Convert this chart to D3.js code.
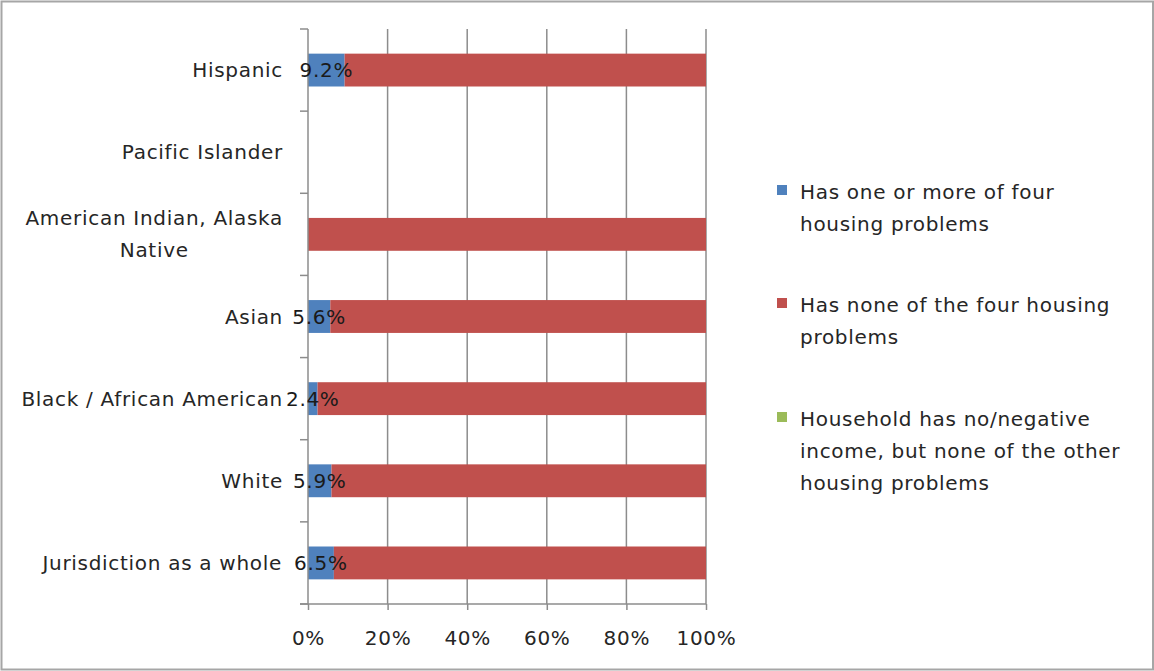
<!DOCTYPE html>
<html>
<head>
<meta charset="utf-8">
<script src="https://cdn.jsdelivr.net/npm/d3@7"></script>
<style>
html,body{margin:0;padding:0;background:#fff;}
text{font-family:"DejaVu Sans",sans-serif;}
</style>
</head>
<body>
<svg id="chart" width="1154" height="671"></svg>
<script>
const categories = ["Hispanic", "Pacific Islander", "American Indian, Alaska Native", "Asian", "Black / African American", "White", "Jurisdiction as a whole"];
const categoryLines = [["Hispanic"], ["Pacific Islander"], ["American Indian, Alaska", "Native"], ["Asian"], ["Black / African American"], ["White"], ["Jurisdiction as a whole"]];
const hasProblems = [9.2, 0, 0, 5.6, 2.4, 5.9, 6.5];
const noProblems = [90.8, 0, 100, 94.4, 97.6, 94.1, 93.5];
const noIncome = [0, 0, 0, 0, 0, 0, 0];
const seriesNames = ["Has one or more of four housing problems", "Has none of the four housing problems", "Household has no/negative income, but none of the other housing problems"];
const legendLines = [["Has one or more of four", "housing problems"], ["Has none of the four housing", "problems"], ["Household has no/negative", "income, but none of the other", "housing problems"]];
const colors = ["#4F81BD", "#C0504D", "#9BBB59"];
const xTicks = [0, 20, 40, 60, 80, 100];

const svg = d3.select("#chart");
const W = 1154, H = 671;
const m = {left: 308, right: 706, top: 29, bottom: 604};
const textColor = "#262626";
const gridColor = "#8c8c8c";
const fs = 20;
const ls = 0.7;

// outer border
svg.append("rect").attr("x", 1.5).attr("y", 1.5).attr("width", W - 2.5).attr("height", H - 3)
  .attr("fill", "#fff").attr("stroke", "#a6a6a6").attr("stroke-width", 2);

const x = d3.scaleLinear().domain([0, 100]).range([m.left, m.right]);
const y = d3.scaleBand().domain(categories).range([m.top, m.bottom]).paddingInner(0.6).paddingOuter(0.3);
const yEdge = d3.scaleLinear().domain([0, categories.length]).range([m.top, m.bottom]);

// gridlines
svg.append("g").selectAll("line").data(xTicks.slice(1)).join("line")
  .attr("x1", d => x(d)).attr("x2", d => x(d)).attr("y1", m.top).attr("y2", m.bottom)
  .attr("stroke", gridColor).attr("stroke-width", 1.5);

// bars
const stackData = categories.map((c, i) => ({cat: c, s0: hasProblems[i], s1: noProblems[i], s2: noIncome[i]}));
const stack = d3.stack().keys(["s0", "s1", "s2"])(stackData);
svg.append("g").selectAll("g").data(stack).join("g")
  .attr("fill", (d, i) => colors[i])
  .selectAll("rect").data(d => d.filter(p => p[1] - p[0] > 0)).join("rect")
  .attr("x", d => x(d[0])).attr("width", d => x(d[1]) - x(d[0]))
  .attr("y", d => y(d.data.cat)).attr("height", y.bandwidth());

// y axis line
svg.append("line").attr("x1", m.left).attr("x2", m.left).attr("y1", m.top).attr("y2", m.bottom)
  .attr("stroke", gridColor).attr("stroke-width", 1.5);
// y ticks at band edges
svg.append("g").selectAll("line").data(d3.range(categories.length + 1)).join("line")
  .attr("x1", m.left - 8).attr("x2", m.left).attr("y1", d => yEdge(d)).attr("y2", d => yEdge(d))
  .attr("stroke", gridColor).attr("stroke-width", 1.5);

// x axis
const xAxis = d3.axisBottom(x).tickValues(xTicks).tickFormat(d => d + "%").tickSize(6).tickSizeOuter(0);
const gx = svg.append("g").attr("transform", `translate(0,${m.bottom})`).call(xAxis);
gx.select(".domain").attr("stroke", gridColor).attr("stroke-width", 1.5).attr("d", `M${m.left - 8},0H${m.right}`);
gx.selectAll(".tick line").attr("stroke", gridColor).attr("stroke-width", 1.5);
gx.selectAll(".tick text").attr("fill", textColor).attr("font-size", fs).attr("font-family", "DejaVu Sans")
  .attr("dy", null).attr("y", 41).attr("letter-spacing", ls);

// category labels
const lh = 32;
categories.forEach((c, i) => {
  const lines = categoryLines[i];
  const cy = y(c) + y.bandwidth() / 2;
  const g = svg.append("g");
  const t = g.append("text").attr("fill", textColor).attr("font-size", fs).attr("letter-spacing", ls);
  lines.forEach((ln, j) => {
    t.append("tspan").attr("x", 0).attr("y", cy + (j - (lines.length - 1) / 2) * lh).attr("dy", "0.35em")
      .attr("text-anchor", "middle").text(ln);
  });
  const bb = t.node().getBBox();
  const right = 283;
  g.attr("transform", `translate(${right - bb.width / 2},0)`);
});

// data labels
svg.append("g").selectAll("text").data(stackData.filter(d => d.s0 > 0)).join("text")
  .attr("x", d => x(d.s0 / 2)).attr("y", d => y(d.cat) + y.bandwidth() / 2).attr("dy", "0.35em")
  .attr("text-anchor", "middle").attr("fill", "#1a1a1a").attr("font-size", fs).attr("letter-spacing", ls)
  .text(d => d.s0.toFixed(1) + "%");

// legend
const legendY = [192, 305, 419];
const lg = svg.append("g");
seriesNames.forEach((s, i) => {
  lg.append("rect").attr("x", 777).attr("y", legendY[i] - 7).attr("width", 10).attr("height", 10).attr("fill", colors[i]);
  const t = lg.append("text").attr("fill", textColor).attr("font-size", fs).attr("letter-spacing", ls);
  legendLines[i].forEach((ln, j) => {
    t.append("tspan").attr("x", 800).attr("y", legendY[i] + j * lh).attr("dy", "0.35em").text(ln);
  });
});
</script>
</body>
</html>
